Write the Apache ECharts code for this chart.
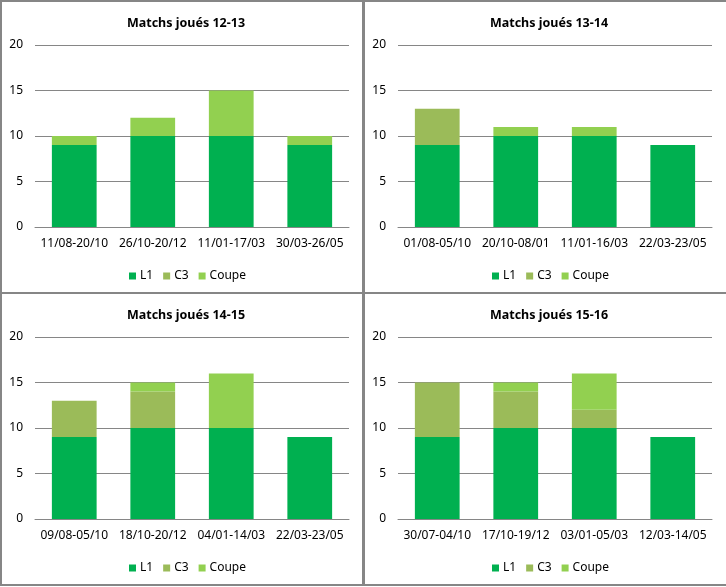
<!DOCTYPE html>
<html>
<head>
<meta charset="utf-8">
<script src="https://cdn.jsdelivr.net/npm/echarts@6/dist/echarts.min.js"></script>
<style>
html,body{margin:0;padding:0;background:#fff;}
#c{width:726px;height:587px;}
</style>
</head>
<body>
<div id="c"></div>
<script>
// Data
const titles = ['Matchs joués 12-13', 'Matchs joués 13-14', 'Matchs joués 14-15', 'Matchs joués 15-16'];
const categories = [
  ['11/08-20/10', '26/10-20/12', '11/01-17/03', '30/03-26/05'],
  ['01/08-05/10', '20/10-08/01', '11/01-16/03', '22/03-23/05'],
  ['09/08-05/10', '18/10-20/12', '04/01-14/03', '22/03-23/05'],
  ['30/07-04/10', '17/10-19/12', '03/01-05/03', '12/03-14/05']
];
const seriesNames = ['L1', 'C3', 'Coupe'];
const l1 = [
  [9, 10, 10, 9],
  [9, 10, 10, 9],
  [9, 10, 10, 9],
  [9, 10, 10, 9]
];
const c3 = [
  [0, 0, 0, 0],
  [4, 0, 0, 0],
  [4, 4, 0, 0],
  [6, 4, 2, 0]
];
const coupe = [
  [1, 2, 5, 1],
  [0, 1, 1, 0],
  [0, 1, 6, 0],
  [0, 1, 4, 0]
];
const yTicks = [0, 5, 10, 15, 20];

const colors = ['#00B050', '#9BBB59', '#92D050'];
const font = 'Noto Sans, Open Sans, sans-serif';

// panel layout
const panels = [
  {x: 0, y: 0},
  {x: 363, y: 0},
  {x: 0, y: 292},
  {x: 363, y: 292}
];

const grids = [], xAxes = [], yAxes = [], series = [], titleOpts = [], legends = [], graphics = [];
panels.forEach((p, i) => {
  grids.push({left: p.x + 35, top: p.y + 45, width: 314, height: 182, containLabel: false});
  xAxes.push({
    type: 'category', gridIndex: i, data: categories[i],
    axisLine: {show: true, lineStyle: {color: '#868686', width: 1}},
    axisTick: {show: false},
    axisLabel: {color: '#000', fontFamily: font, fontSize: 12, margin: 11, interval: 0}
  });
  yAxes.push({
    type: 'value', gridIndex: i, min: yTicks[0], max: yTicks[yTicks.length - 1], interval: 5,
    axisLine: {show: false}, axisTick: {show: false},
    axisLabel: {color: '#000', fontFamily: font, fontSize: 12, margin: 12},
    splitLine: {lineStyle: {color: '#868686', width: 1}}
  });
  const vals = [l1[i], c3[i], coupe[i]];
  seriesNames.forEach((n, k) => {
    series.push({
      name: n, type: 'bar', stack: 'p' + i, xAxisIndex: i, yAxisIndex: i,
      data: vals[k], barWidth: '57%', itemStyle: {color: colors[k]},
      emphasis: {disabled: true}
    });
  });
  titleOpts.push({
    text: titles[i], left: p.x + 181, top: p.y + 12, textAlign: 'center',
    textStyle: {fontFamily: font, fontSize: 12.5, fontWeight: 'bold', color: '#000'}
  });
  legends.push({
    data: seriesNames, left: p.x + 124, top: p.y + 265, itemWidth: 7, itemHeight: 7, itemGap: 10,
    icon: 'rect', selectedMode: false,
    textStyle: {fontFamily: font, fontSize: 12, color: '#000', padding: [0, 0, 0, -1]}
  });
  graphics.push({
    type: 'rect', shape: {x: p.x + 1, y: p.y + 1, width: 362 + (p.x > 0 ? 10 : 0), height: 292},
    style: {fill: 'none', stroke: '#868686', lineWidth: 2}, silent: true, z: 100
  });
});

const chart = echarts.init(document.getElementById('c'), null, {renderer: 'canvas'});
chart.setOption({
  animation: false,
  backgroundColor: '#fff',
  title: titleOpts,
  legend: legends,
  grid: grids,
  xAxis: xAxes,
  yAxis: yAxes,
  series: series,
  graphic: graphics
});
</script>
</body>
</html>
